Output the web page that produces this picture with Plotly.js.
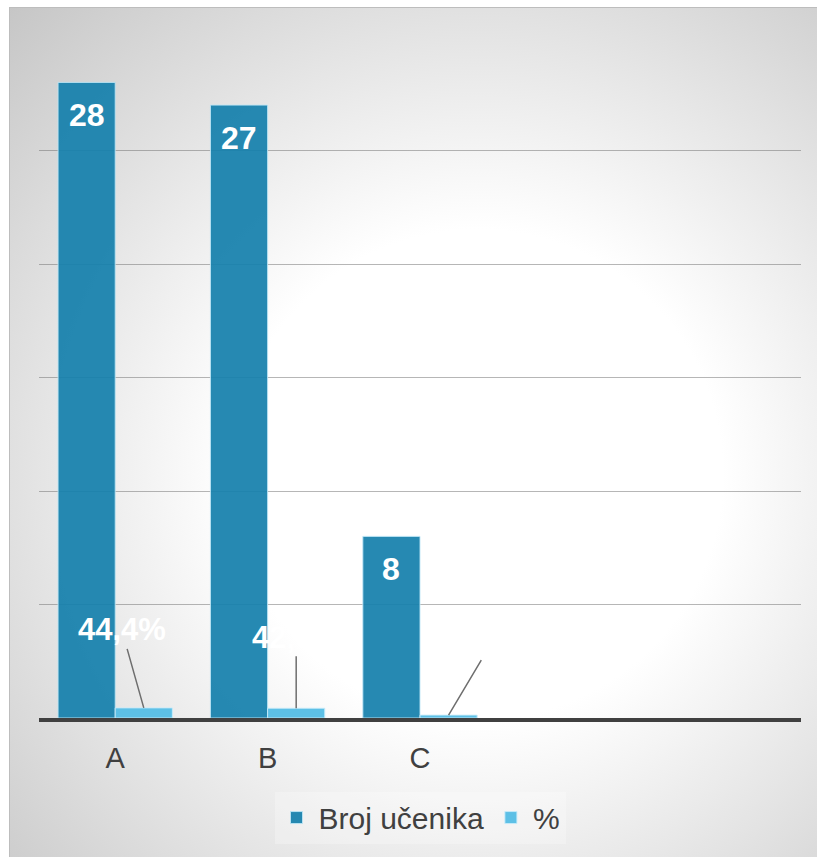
<!DOCTYPE html>
<html>
<head>
<meta charset="utf-8">
<script src="https://cdn.plot.ly/plotly-3.0.1.min.js"></script>
<style>
  html, body { margin: 0; padding: 0; background: #ffffff; }
  #wrap {
    position: absolute; left: 9px; top: 7px; width: 808px; height: 850px;
    background: radial-gradient(circle farthest-corner at 58% 55%, #ffffff 0%, #ffffff 37%, #c6c6c6 100%);
    box-shadow: inset 1px 1px 0 #bdbdbd;
  }
  #chart { width: 808px; height: 850px; }
</style>
</head>
<body>
<div id="wrap"><div id="chart"></div></div>
<script>
// ---- data ----
const categories = ["A", "B", "C"];
const seriesNames = ["Broj učenika", "%"];
const counts = [28, 27, 8];
const shares = [0.444, 0.429, 0.127];
const shareLabels = ["44,4%", "42,9%", "12,7%"];
const yTicks = [0, 5, 10, 15, 20, 25, 30];

// ---- style ----
const darkBlue = "rgba(22,128,172,0.93)";
const lightBlue = "#5DC0E6";
const font = "Arial, 'Liberation Sans', sans-serif";
const bargap = 0.25;
const halfBar = (1 - bargap) / 4; // centre offset of each bar within its group

const traces = [
  {
    type: "bar", name: seriesNames[0], x: categories, y: counts,
    marker: { color: darkBlue, line: { color: "rgba(190,230,245,0.9)", width: 1 } },
    hoverinfo: "skip"
  },
  {
    type: "bar", name: seriesNames[1], x: categories, y: shares,
    marker: { color: lightBlue, line: { color: "rgba(200,235,250,0.9)", width: 1 } },
    hoverinfo: "skip"
  }
];

const annotations = [];
// value labels inside the dark bars
counts.forEach((v, i) => {
  annotations.push({
    x: i - halfBar, y: v, xref: "x", yref: "y",
    text: String(v), showarrow: false, yanchor: "top", yshift: -13,
    font: { family: font, size: 32, color: "#ffffff", weight: "bold" }
  });
});
// percentage labels with leader lines
const leadDx = [-22, 0, 44];
const leadDy = [-78, -71, -74];
shares.forEach((v, i) => {
  annotations.push({
    x: i + halfBar, y: v, xref: "x", yref: "y",
    text: shareLabels[i], showarrow: true, arrowhead: 0, arrowwidth: 1.5,
    arrowcolor: "#6e6e6e", standoff: 0, ax: leadDx[i], ay: leadDy[i],
    font: { family: font, size: 31, color: "#ffffff", weight: "bold" }
  });
});

const layout = {
  width: 808, height: 850,
  margin: { l: 30, r: 16, t: 30, b: 139 },
  paper_bgcolor: "rgba(0,0,0,0)",
  plot_bgcolor: "rgba(0,0,0,0)",
  barmode: "group", bargap: bargap, bargroupgap: 0,
  showlegend: true,
  legend: {
    orientation: "h", x: 0.5, xanchor: "center", y: -0.108, yanchor: "top",
    bgcolor: "rgba(255,255,255,0.25)",
    font: { family: font, size: 30, color: "#404040" },
    itemwidth: 34,
    itemclick: false
  },
  xaxis: {
    type: "category", range: [-0.5, 4.5],
    showgrid: false, zeroline: false,
    showline: true, linecolor: "#404040", linewidth: 4,
    ticks: "", ticklabelstandoff: 11,
    tickfont: { family: font, size: 29, color: "#404040" }
  },
  yaxis: {
    range: [0, 30], tickvals: yTicks, showticklabels: false,
    showgrid: true, gridcolor: "rgba(110,110,110,0.5)", gridwidth: 1,
    zeroline: false, showline: false
  },
  annotations: annotations
};

Plotly.newPlot("chart", traces, layout, { displayModeBar: false, staticPlot: true });
</script>
</body>
</html>
